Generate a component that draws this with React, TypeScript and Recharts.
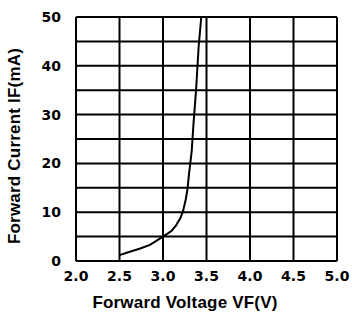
import React from "react";
import { LineChart, Line, XAxis, YAxis, CartesianGrid } from "recharts";

const voltage = [2.5, 2.6, 2.73, 2.85, 3.0, 3.1, 3.15, 3.2, 3.23, 3.26, 3.28, 3.3, 3.33, 3.35, 3.38, 3.41, 3.44];
const current = [1.2, 1.8, 2.5, 3.3, 5.0, 6.2, 7.3, 8.8, 10.2, 12.5, 14.5, 18, 22.5, 28, 35, 44, 50];
const xTicks = [2.0, 2.5, 3.0, 3.5, 4.0, 4.5, 5.0];
const yTicks = [0, 5, 10, 15, 20, 25, 30, 35, 40, 45, 50];
const yLabelTicks = [0, 10, 20, 30, 40, 50];
const xTitle = "Forward Voltage VF(V)";
const yTitle = "Forward Current IF(mA)";

const data = voltage.map((v, i) => ({ v, i: current[i] }));

const tickStyle = { fill: "#000", fontSize: 14, fontWeight: 700, fontFamily: "DejaVu Sans" };

const titleStyle: React.CSSProperties = {
  position: "absolute",
  textAlign: "center",
  fontFamily: "Liberation Sans",
  fontWeight: 700,
  fontSize: 17,
  letterSpacing: 0.2,
  lineHeight: "18px",
  whiteSpace: "nowrap",
  width: 220,
};

export default function App() {
  return (
    <div style={{ position: "absolute", left: 0, top: 0, width: 352, height: 316, background: "#fff" }}>
      <LineChart width={352} height={316} data={data} margin={{ top: 17, right: 15, left: 0, bottom: 0 }}>
        <CartesianGrid stroke="#000" strokeWidth={2} horizontal vertical />
        <XAxis
          type="number"
          dataKey="v"
          domain={[2, 5]}
          ticks={xTicks}
          tickFormatter={(t: number) => t.toFixed(1)}
          height={55}
          axisLine={false}
          tickLine={false}
          tickMargin={4}
          tick={tickStyle}
          interval={0}
        />
        <YAxis
          type="number"
          domain={[0, 50]}
          ticks={yTicks}
          tickFormatter={(t: number) => (yLabelTicks.includes(t) ? String(t) : "")}
          width={76}
          axisLine={false}
          tickLine={false}
          tickMargin={9}
          tick={tickStyle}
          interval={0}
        />
        <Line dataKey="i" type="linear" stroke="#000" strokeWidth={2} dot={false} isAnimationActive={false} />
      </LineChart>
      <div style={{ ...titleStyle, left: 185 - 110, top: 294 }}>{xTitle}</div>
      <div style={{ ...titleStyle, left: 15 - 110, top: 146 - 9, transform: "rotate(-90deg)" }}>{yTitle}</div>
    </div>
  );
}
